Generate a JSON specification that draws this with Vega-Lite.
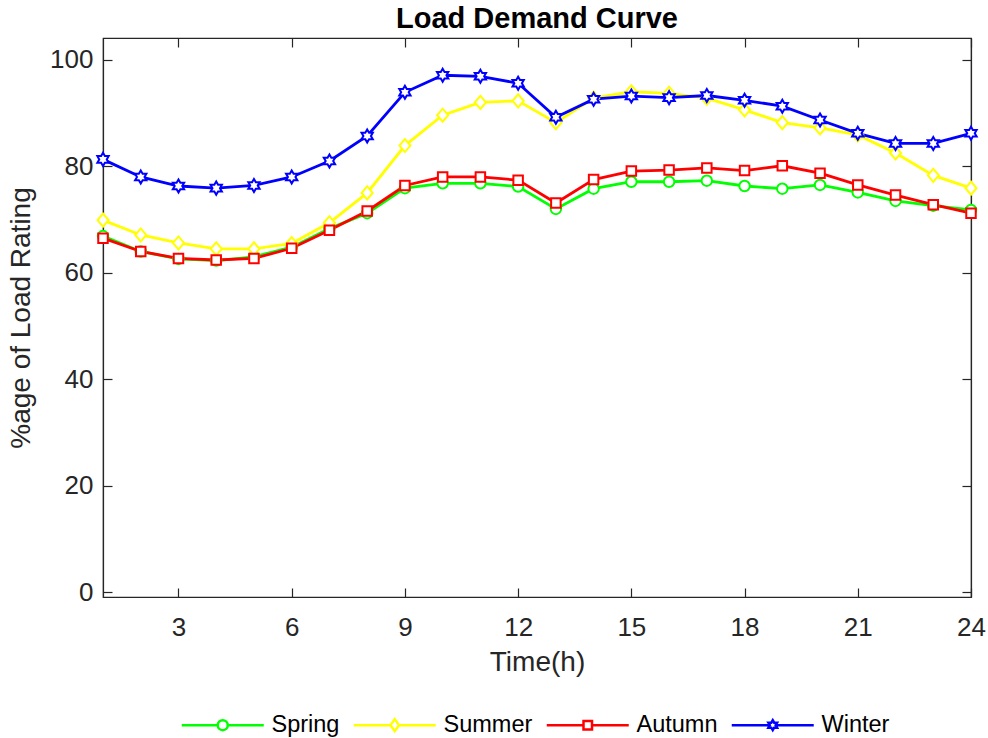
{
  "$schema": "https://vega.github.io/schema/vega-lite/v6.json",
  "autosize": "none",
  "width": 868,
  "height": 559,
  "padding": {"left": 103, "top": 38, "right": 17, "bottom": 141},
  "background": "white",
  "config": {
    "font": "Liberation Sans",
    "view": {"stroke": "#262626", "strokeWidth": 1.2},
    "axis": {"grid": false, "domainColor": "#262626", "tickColor": "#262626", "labelColor": "#262626", "titleColor": "#262626", "labelFont": "Liberation Sans", "titleFont": "Liberation Sans", "titleFontWeight": "normal", "domainWidth": 1.2, "tickWidth": 1.2, "labelFlush": false, "labelOverlap": false, "labelBound": false}
  },
  "title": {"text": "Load Demand Curve", "fontSize": 29, "fontWeight": "bold", "font": "Liberation Sans", "color": "black", "offset": 3, "anchor": "middle"},
  "data": {"values": [
    {"h":1,"s":"Spring","v":66.9},{"h":2,"s":"Spring","v":64.0},{"h":3,"s":"Spring","v":62.6},{"h":4,"s":"Spring","v":62.3},{"h":5,"s":"Spring","v":63.0},{"h":6,"s":"Spring","v":64.8},{"h":7,"s":"Spring","v":68.3},{"h":8,"s":"Spring","v":71.2},{"h":9,"s":"Spring","v":75.9},{"h":10,"s":"Spring","v":76.8},{"h":11,"s":"Spring","v":76.8},{"h":12,"s":"Spring","v":76.2},{"h":13,"s":"Spring","v":72.0},{"h":14,"s":"Spring","v":75.8},{"h":15,"s":"Spring","v":77.1},{"h":16,"s":"Spring","v":77.1},{"h":17,"s":"Spring","v":77.3},{"h":18,"s":"Spring","v":76.3},{"h":19,"s":"Spring","v":75.8},{"h":20,"s":"Spring","v":76.5},{"h":21,"s":"Spring","v":75.1},{"h":22,"s":"Spring","v":73.5},{"h":23,"s":"Spring","v":72.6},{"h":24,"s":"Spring","v":71.8},
    {"h":1,"s":"Summer","v":69.9},{"h":2,"s":"Summer","v":67.1},{"h":3,"s":"Summer","v":65.6},{"h":4,"s":"Summer","v":64.5},{"h":5,"s":"Summer","v":64.5},{"h":6,"s":"Summer","v":65.5},{"h":7,"s":"Summer","v":69.4},{"h":8,"s":"Summer","v":75.0},{"h":9,"s":"Summer","v":83.9},{"h":10,"s":"Summer","v":89.6},{"h":11,"s":"Summer","v":92.0},{"h":12,"s":"Summer","v":92.3},{"h":13,"s":"Summer","v":88.2},{"h":14,"s":"Summer","v":92.8},{"h":15,"s":"Summer","v":94.0},{"h":16,"s":"Summer","v":93.7},{"h":17,"s":"Summer","v":92.8},{"h":18,"s":"Summer","v":90.6},{"h":19,"s":"Summer","v":88.2},{"h":20,"s":"Summer","v":87.2},{"h":21,"s":"Summer","v":85.9},{"h":22,"s":"Summer","v":82.5},{"h":23,"s":"Summer","v":78.3},{"h":24,"s":"Summer","v":75.9},
    {"h":1,"s":"Autumn","v":66.5},{"h":2,"s":"Autumn","v":64.0},{"h":3,"s":"Autumn","v":62.7},{"h":4,"s":"Autumn","v":62.4},{"h":5,"s":"Autumn","v":62.7},{"h":6,"s":"Autumn","v":64.6},{"h":7,"s":"Autumn","v":68.0},{"h":8,"s":"Autumn","v":71.6},{"h":9,"s":"Autumn","v":76.4},{"h":10,"s":"Autumn","v":78.0},{"h":11,"s":"Autumn","v":78.0},{"h":12,"s":"Autumn","v":77.4},{"h":13,"s":"Autumn","v":73.1},{"h":14,"s":"Autumn","v":77.5},{"h":15,"s":"Autumn","v":79.1},{"h":16,"s":"Autumn","v":79.3},{"h":17,"s":"Autumn","v":79.7},{"h":18,"s":"Autumn","v":79.2},{"h":19,"s":"Autumn","v":80.1},{"h":20,"s":"Autumn","v":78.7},{"h":21,"s":"Autumn","v":76.5},{"h":22,"s":"Autumn","v":74.6},{"h":23,"s":"Autumn","v":72.8},{"h":24,"s":"Autumn","v":71.2},
    {"h":1,"s":"Winter","v":81.3},{"h":2,"s":"Winter","v":78.0},{"h":3,"s":"Winter","v":76.3},{"h":4,"s":"Winter","v":75.9},{"h":5,"s":"Winter","v":76.4},{"h":6,"s":"Winter","v":78.0},{"h":7,"s":"Winter","v":81.0},{"h":8,"s":"Winter","v":85.7},{"h":9,"s":"Winter","v":93.9},{"h":10,"s":"Winter","v":97.1},{"h":11,"s":"Winter","v":96.9},{"h":12,"s":"Winter","v":95.6},{"h":13,"s":"Winter","v":89.2},{"h":14,"s":"Winter","v":92.6},{"h":15,"s":"Winter","v":93.2},{"h":16,"s":"Winter","v":92.9},{"h":17,"s":"Winter","v":93.3},{"h":18,"s":"Winter","v":92.4},{"h":19,"s":"Winter","v":91.3},{"h":20,"s":"Winter","v":88.7},{"h":21,"s":"Winter","v":86.2},{"h":22,"s":"Winter","v":84.3},{"h":23,"s":"Winter","v":84.3},{"h":24,"s":"Winter","v":86.2}
  ]},
  "layer": [
    {
      "mark": {"type": "line", "strokeWidth": 2.8},
      "encoding": {
        "x": {"field": "h", "type": "quantitative", "scale": {"domain": [1, 24], "nice": false, "zero": false},
              "axis": {"values": [3,6,9,12,15,18,21,24], "tickSize": -9, "labelFontSize": 26, "labelPadding": 26, "title": "Time(h)", "titleFontSize": 28, "titlePadding": 8}},
        "y": {"field": "v", "type": "quantitative", "scale": {"domain": [-0.9, 104.1], "nice": false, "zero": false},
              "axis": {"values": [0,20,40,60,80,100], "tickSize": -9, "labelFontSize": 26, "labelPadding": 19, "title": "%age of Load Rating", "titleFontSize": 28, "titlePadding": 14}},
        "color": {"field": "s", "type": "nominal",
                  "scale": {"domain": ["Spring","Summer","Autumn","Winter"], "range": ["#00ff00","#ffff00","#ff0000","#0000ff"]},
                  "legend": {"orient": "none", "legendX": 72, "legendY": 675, "direction": "horizontal", "title": null,
                             "symbolSize": 100, "symbolStrokeWidth": 2.5, "labelOffset": 73, "columnPadding": 7,
                             "labelFontSize": 23.5, "labelFont": "Liberation Sans", "labelColor": "black", "padding": 0,
                             "encode": {"symbols": {"update": {
                               "shape": {"signal": "datum.value === 'Spring' ? 'M-1,0H6.2M8.2,0H15.4M6.2,0A1,1,0,1,1,8.2,0A1,1,0,1,1,6.2,0Z' : datum.value === 'Summer' ? 'M-1,0H6.35M8.05,0H15.4M6.35,0L7.2,-1.2L8.05,0L7.2,1.2Z' : datum.value === 'Autumn' ? 'M-1,0H6.35M8.05,0H15.4M6.35,-0.85H8.05V0.85H6.35Z' : 'M-1,0H6.623M7.777,0H15.4M7.2,-1L7.489,-0.5L8.066,-0.5L7.777,0L8.066,0.5L7.489,0.5L7.2,1L6.911,0.5L6.334,0.5L6.623,0L6.334,-0.5L6.911,-0.5Z'"},
                               "fill": {"value": "white"},
                               "fillOpacity": {"value": 1}
                             }}}}},
        "order": {"field": "h", "type": "quantitative"}
      }
    },
    {
      "transform": [{"filter": "datum.s === 'Spring'"}],
      "mark": {"type": "point", "shape": "circle", "filled": true, "fill": "white", "stroke": "#00ff00", "opacity": 1, "strokeWidth": 2, "size": 110},
      "encoding": {
        "x": {"field": "h", "type": "quantitative", "axis": {"orient": "top", "values": [3,6,9,12,15,18,21,24], "tickSize": -9, "labels": false, "title": null}},
        "y": {"field": "v", "type": "quantitative", "axis": {"orient": "right", "values": [0,20,40,60,80,100], "tickSize": -9, "labels": false, "title": null}}
      }
    },
    {
      "transform": [{"filter": "datum.s === 'Summer'"}],
      "mark": {"type": "point", "shape": "M-0.85,0L0,-1L0.85,0L0,1Z", "filled": true, "fill": "white", "stroke": "#ffff00", "opacity": 1, "strokeWidth": 2, "size": 170},
      "encoding": {
        "x": {"field": "h", "type": "quantitative", "axis": null},
        "y": {"field": "v", "type": "quantitative", "axis": null}
      }
    },
    {
      "transform": [{"filter": "datum.s === 'Autumn'"}],
      "mark": {"type": "point", "shape": "square", "filled": true, "fill": "white", "stroke": "#ff0000", "opacity": 1, "strokeWidth": 2, "size": 90},
      "encoding": {
        "x": {"field": "h", "type": "quantitative", "axis": null},
        "y": {"field": "v", "type": "quantitative", "axis": null}
      }
    },
    {
      "transform": [{"filter": "datum.s === 'Winter'"}],
      "mark": {"type": "point", "shape": "M0,-1L0.289,-0.5L0.866,-0.5L0.577,0L0.866,0.5L0.289,0.5L0,1L-0.289,0.5L-0.866,0.5L-0.577,0L-0.866,-0.5L-0.289,-0.5Z", "filled": true, "fill": "white", "stroke": "#0000ff", "opacity": 1, "strokeWidth": 2, "size": 170},
      "encoding": {
        "x": {"field": "h", "type": "quantitative", "axis": null},
        "y": {"field": "v", "type": "quantitative", "axis": null}
      }
    }
  ],
  "resolve": {"axis": {"x": "independent", "y": "independent"}}
}
